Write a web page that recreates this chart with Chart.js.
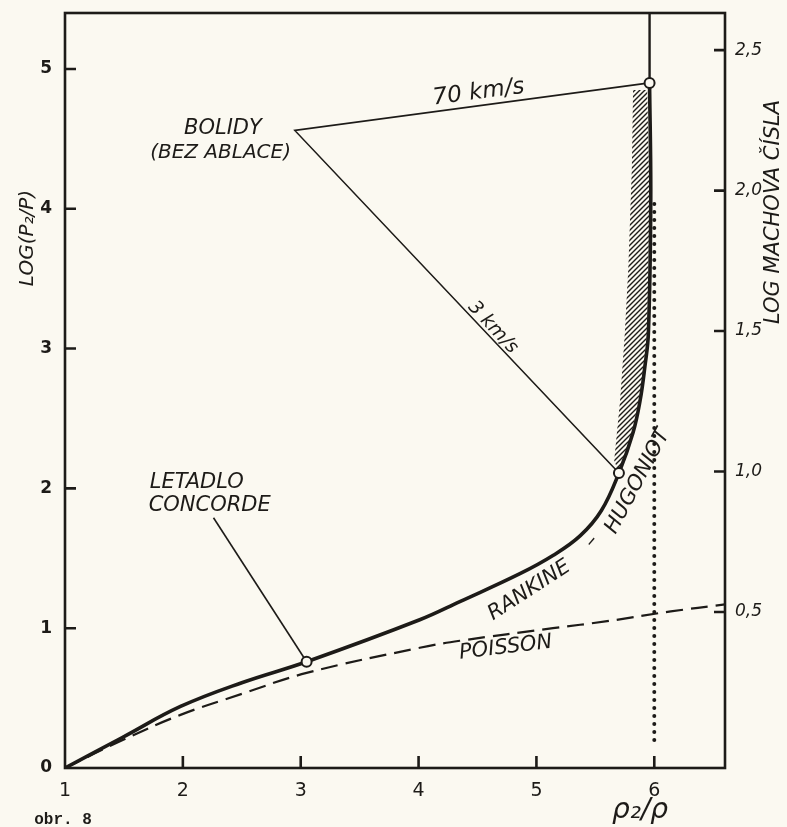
<!DOCTYPE html>
<html>
<head>
<meta charset="utf-8">
<script src="https://cdn.jsdelivr.net/npm/chart.js@4.4.1/dist/chart.umd.min.js"></script>
<style>
  html, body { margin: 0; padding: 0; background: #fbf9f1; }
  canvas { display: block; }
</style>
</head>
<body>
<canvas id="chart" width="787" height="827"></canvas>
<script>
// tick labels of the three axes
const densityTicks = [1, 2, 3, 4, 5, 6]
const pressureTicks = [0, 1, 2, 3, 4, 5]
const machTicks = [0.5, 1.0, 1.5, 2.0, 2.5]

// Rankine-Hugoniot curve
const hugoniotX = [1, 1.49, 1.98, 2.5, 3.05, 4.01, 4.35, 4.86, 5.14, 5.37, 5.55, 5.7, 5.82, 5.88, 5.92, 5.95, 5.97, 5.96]
const hugoniotY = [0, 0.22, 0.44, 0.61, 0.76, 1.06, 1.19, 1.39, 1.52, 1.66, 1.84, 2.11, 2.4, 2.63, 2.87, 3.11, 4.06, 4.9]

// continuation above the 70 km/s point
const topX = [5.96, 5.96]
const topY = [4.9, 5.4]

// Poisson adiabat
const poissonX = [1, 1.49, 1.98, 2.5, 3.05, 4.01, 4.35, 5.14, 5.6, 6.14, 6.6]
const poissonY = [0, 0.2, 0.38, 0.53, 0.68, 0.86, 0.91, 1.0, 1.05, 1.12, 1.17]

// limit of compression rho2/rho = 6
const limitX = [6, 6]
const limitY = [0.2, 4.05]

// hatched band left of the curve
const hatchX = [5.7, 5.66, 5.71, 5.75, 5.78, 5.81, 5.82, 5.94, 5.96, 5.94, 5.91, 5.87, 5.81, 5.7]
const hatchY = [2.11, 2.2, 2.63, 3.11, 3.58, 4.3, 4.85, 4.85, 4.06, 3.11, 2.87, 2.63, 2.4, 2.11]

// marked points: Concorde, bolide 3 km/s, bolide 70 km/s
const markX = [3.05, 5.7, 5.96]
const markY = [0.76, 2.11, 4.9]

// pointer lines
const bolideX = [5.96, 2.95, 5.7]
const bolideY = [4.9, 4.56, 2.11]
const concordeX = [2.26, 3.05]
const concordeY = [1.79, 0.76]

const ink = '#1d1b18'
const paper = '#fbf9f1'
const hand = '"DejaVu Sans"'

const pts = (xs, ys) => xs.map((x, i) => ({ x, y: ys[i] }))

const makeHatch = () => {
  const c = document.createElement('canvas')
  c.width = 5
  c.height = 5
  const g = c.getContext('2d')
  g.strokeStyle = ink
  g.lineWidth = 1.4
  g.beginPath()
  g.moveTo(-1, 1); g.lineTo(1, -1)
  g.moveTo(0, 5); g.lineTo(5, 0)
  g.moveTo(4, 6); g.lineTo(6, 4)
  g.stroke()
  return document.getElementById('chart').getContext('2d').createPattern(c, 'repeat')
}

// texts placed in data coordinates
const notes = [
  { text: '70 km/s', x: 4.51, y: 4.83, angle: -7.5, size: 23 },
  { text: 'BOLIDY', x: 2.34, y: 4.57, angle: 0, size: 21 },
  { text: '(BEZ ABLACE)', x: 2.32, y: 4.4, angle: 0, size: 20 },
  { text: '3 km/s', x: 4.63, y: 3.15, angle: 47, size: 19 },
  { text: 'LETADLO', x: 1.72, y: 2.04, angle: 0, size: 21, align: 'left' },
  { text: 'CONCORDE', x: 1.71, y: 1.88, angle: 0, size: 21, align: 'left' },
  { text: 'RANKINE', x: 4.94, y: 1.27, angle: -33, size: 21 },
  { text: '–', x: 5.47, y: 1.62, angle: -50, size: 21 },
  { text: 'HUGONIOT', x: 5.86, y: 2.05, angle: -62, size: 21 },
  { text: 'POISSON', x: 4.74, y: 0.86, angle: -7, size: 21 },
]

const paperBackground = {
  id: 'paperBackground',
  beforeDraw(chart) {
    const { ctx, width, height } = chart
    ctx.save()
    ctx.fillStyle = paper
    ctx.fillRect(0, 0, width, height)
    ctx.restore()
  },
}

const frameAndTexts = {
  id: 'frameAndTexts',
  afterDraw(chart) {
    const { ctx, chartArea: a, scales } = chart
    ctx.save()
    ctx.strokeStyle = ink
    ctx.lineWidth = 2.6
    ctx.strokeRect(a.left, a.top, a.right - a.left, a.bottom - a.top)

    // tick marks drawn inside the frame
    ctx.beginPath()
    scales.x.ticks.forEach((t) => {
      if (t.value === 1) return
      const px = scales.x.getPixelForValue(t.value)
      ctx.moveTo(px, a.bottom)
      ctx.lineTo(px, a.bottom - 12)
    })
    scales.y.ticks.forEach((t) => {
      if (t.value === 0) return
      const py = scales.y.getPixelForValue(t.value)
      ctx.moveTo(a.left, py)
      ctx.lineTo(a.left + 11, py)
    })
    scales.y2.ticks.forEach((t) => {
      const py = scales.y2.getPixelForValue(t.value)
      ctx.moveTo(a.right, py)
      ctx.lineTo(a.right - 11, py)
    })
    ctx.stroke()

    ctx.fillStyle = ink
    ctx.textBaseline = 'middle'
    notes.forEach((n) => {
      ctx.save()
      ctx.translate(scales.x.getPixelForValue(n.x), scales.y.getPixelForValue(n.y))
      ctx.rotate((n.angle * Math.PI) / 180)
      ctx.font = `italic ${n.size}px ${hand}`
      ctx.textAlign = n.align || 'center'
      ctx.fillText(n.text, 0, 0)
      ctx.restore()
    })

    // axis titles and caption
    ctx.textAlign = 'center'
    ctx.save()
    ctx.translate(28, 238)
    ctx.rotate(-Math.PI / 2)
    ctx.font = `italic 20px ${hand}`
    ctx.fillText('LOG(P₂/P)', 0, 0)
    ctx.restore()

    ctx.save()
    ctx.translate(774, 212)
    ctx.rotate(-Math.PI / 2)
    ctx.font = `italic 21px ${hand}`
    ctx.fillText('LOG MACHOVA ČÍSLA', 0, 0)
    ctx.restore()

    ctx.font = `italic 28px ${hand}`
    ctx.fillText('ρ₂/ρ', 640, 811)

    ctx.font = 'bold 16px "Liberation Mono"'
    ctx.fillText('obr. 8', 63, 820)
    ctx.restore()
  },
}

const fixedTicks = (list) => (scale) => {
  scale.ticks = list.map((value) => ({ value }))
}

// fixed axis sizes so the plot frame sits where the drawing has it
const fixSize = (size) => (scale) => {
  if (scale.isHorizontal()) scale.height = size
  else scale.width = size
  scale.paddingTop = 0
  scale.paddingBottom = 0
  scale.paddingLeft = 0
  scale.paddingRight = 0
}

new Chart(document.getElementById('chart'), {
  type: 'scatter',
  data: {
    datasets: [
      {
        label: 'body',
        data: pts(markX, markY),
        pointRadius: 5,
        pointBorderWidth: 2,
        pointBackgroundColor: paper,
        pointBorderColor: ink,
        showLine: false,
        order: 0,
      },
      {
        label: 'Rankine-Hugoniot',
        data: pts(hugoniotX, hugoniotY),
        showLine: true,
        borderColor: ink,
        borderWidth: 3.6,
        tension: 0.4,
        pointRadius: 0,
        order: 1,
      },
      {
        label: 'Rankine-Hugoniot top',
        data: pts(topX, topY),
        showLine: true,
        borderColor: ink,
        borderWidth: 2.4,
        pointRadius: 0,
        order: 2,
      },
      {
        label: 'Poisson',
        data: pts(poissonX, poissonY),
        showLine: true,
        borderColor: ink,
        borderWidth: 2.2,
        borderDash: [17, 8],
        tension: 0.4,
        pointRadius: 0,
        order: 3,
      },
      {
        label: 'limit',
        data: pts(limitX, limitY),
        showLine: true,
        borderColor: ink,
        borderWidth: 4,
        borderDash: [0, 8],
        borderCapStyle: 'round',
        pointRadius: 0,
        order: 4,
      },
      {
        label: 'bolidy',
        data: pts(bolideX, bolideY),
        showLine: true,
        borderColor: ink,
        borderWidth: 1.6,
        pointRadius: 0,
        order: 5,
      },
      {
        label: 'concorde',
        data: pts(concordeX, concordeY),
        showLine: true,
        borderColor: ink,
        borderWidth: 1.6,
        pointRadius: 0,
        order: 6,
      },
      {
        label: 'hatch',
        data: pts(hatchX, hatchY),
        showLine: true,
        borderWidth: 0,
        borderColor: 'rgba(0,0,0,0)',
        backgroundColor: makeHatch(),
        fill: 'shape',
        pointRadius: 0,
        order: 7,
      },
    ],
  },
  options: {
    responsive: false,
    animation: false,
    devicePixelRatio: 1,
    layout: { padding: { top: 13, left: 0, right: 0, bottom: 0 } },
    plugins: {
      legend: { display: false },
      tooltip: { enabled: false },
    },
    scales: {
      x: {
        type: 'linear',
        min: 1,
        max: 6.6,
        afterBuildTicks: fixedTicks(densityTicks),
        afterFit: fixSize(59),
        grid: { display: false },
        border: { display: false },
        ticks: { color: ink, padding: 4, font: { size: 19, family: hand } },
      },
      y: {
        min: 0,
        max: 5.4,
        afterBuildTicks: fixedTicks(pressureTicks),
        afterFit: fixSize(65),
        grid: { display: false },
        border: { display: false },
        ticks: { color: ink, padding: 5, font: { size: 17, weight: 'bold', family: hand } },
      },
      y2: {
        position: 'right',
        min: -0.055,
        max: 2.632,
        afterBuildTicks: fixedTicks(machTicks),
        afterFit: fixSize(62),
        grid: { display: false },
        border: { display: false },
        ticks: {
          color: ink,
          padding: 2,
          font: { size: 17, style: 'italic', family: hand },
          callback: (v) => v.toFixed(1).replace('.', ','),
        },
      },
    },
  },
  plugins: [paperBackground, frameAndTexts],
})
</script>
</body>
</html>
